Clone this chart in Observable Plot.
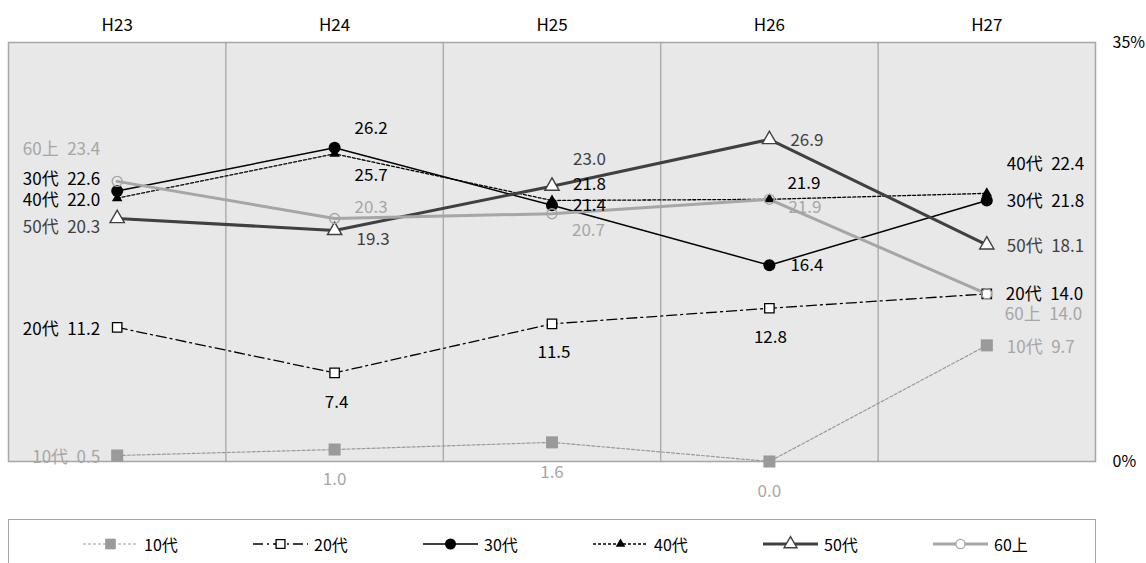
<!DOCTYPE html>
<html><head><meta charset="utf-8">
<script src="https://cdn.jsdelivr.net/npm/d3@7"></script>
<script src="https://cdn.jsdelivr.net/npm/@observablehq/plot@0.6"></script>
<style>
body{margin:0;background:#fff;font-family:"Noto Sans CJK JP","Noto Sans",sans-serif;}
#chart{position:absolute;left:0;top:0;}
#legend{position:absolute;left:8px;top:519px;width:1088px;height:60px;border:1px solid #a6a6a6;box-sizing:border-box;background:#fff;}
.item{position:absolute;top:14px;height:20px;display:flex;align-items:center;font-size:16px;color:#000;white-space:nowrap;}
.item svg{margin-right:6px;}
</style></head><body><div id="chart"></div><div id="legend"></div>
<script>
// ---- data ----
const years = ["H23","H24","H25","H26","H27"];
const seriesNames = ["10代","20代","30代","40代","50代","60上"];
const v10 = [0.5, 1.0, 1.6, 0.0, 9.7];
const v20 = [11.2, 7.4, 11.5, 12.8, 14.0];
const v30 = [22.6, 26.2, 21.4, 16.4, 21.8];
const v40 = [22.0, 25.7, 21.8, 21.9, 22.4];
const v50 = [20.3, 19.3, 23.0, 26.9, 18.1];
const v60 = [23.4, 20.3, 20.7, 21.9, 14.0];
const yTicks = [0, 35];

// ---- styles ----
const values = [v10, v20, v30, v40, v50, v60];
const styles = {
  "10代": {stroke:"#9a9a9a", sw:1.2, dash:"3,2", symbol:"square", r:6.8, fill:"#9a9a9a", ms:"none", msw:0, label:"#a6a6a6", lr:6},
  "20代": {stroke:"#000", sw:1.3, dash:"10,4,2,4", symbol:"square", r:5.3, fill:"#fff", ms:"#000", msw:1.3, label:"#000", lr:5},
  "30代": {stroke:"#000", sw:1.5, dash:null, symbol:"circle", r:6, fill:"#000", ms:"none", msw:0, label:"#000", lr:5.5},
  "40代": {stroke:"#000", sw:1.3, dash:"3,2", symbol:"triangle", r:3.9, fill:"#000", ms:"none", msw:0, label:"#000", lr:3.6},
  "50代": {stroke:"#404040", sw:3, dash:null, symbol:"triangle", r:5.3, fill:"#fff", ms:"#404040", msw:1.4, label:"#404040", lr:4.8},
  "60上": {stroke:"#a6a6a6", sw:3, dash:null, symbol:"circle", r:5, fill:"none", ms:"#a6a6a6", msw:1.4, label:"#a6a6a6", lr:4.6}
};
// label placement per series per year: [dx, dy, anchor]
const labelPlace = {
  "10代": [[-17,2,"end"],[0,30,"middle"],[0,30,"middle"],[0,30,"middle"],[20,2,"start"]],
  "20代": [[-17,2,"end"],[2,30,"middle"],[2,29,"middle"],[1,29,"middle"],[19,1,"start"]],
  "30代": [[-17,-11,"end"],[20,-19,"start"],[21,0,"start"],[21,0,"start"],[20,1,"start"]],
  "40代": [[-17,2,"end"],[20,22,"start"],[21,-16,"start"],[18,-16,"start"],[20,-29,"start"]],
  "50代": [[-17,9,"end"],[22,9,"start"],[21,-27,"start"],[21,1,"start"],[20,2,"start"]],
  "60上": [[-17,-32,"end"],[20,-11,"start"],[20,17,"start"],[19,8,"start"],[18,21,"start"]]
};

const data = [];
seriesNames.forEach((s, si) => values[si].forEach((v, i) => data.push({series: s, i, year: years[i], value: v})));

const lineMarks = [], dotMarks = [], labelMarks = [];
for (const s of seriesNames) {
  const st = styles[s];
  const d = data.filter(e => e.series === s);
  lineMarks.push(Plot.line(d, {x: "i", y: "value", stroke: st.stroke, strokeWidth: st.sw, strokeDasharray: st.dash || undefined, strokeLinejoin: "round"}));
  dotMarks.push(Plot.dot(d, {x: "i", y: "value", symbol: st.symbol, r: st.r, fill: st.fill, stroke: st.ms, strokeWidth: st.msw}));
  d.forEach(e => {
    const [dx, dy, anchor] = labelPlace[s][e.i];
    const txt = (e.i === 0 || e.i === years.length - 1) ? `${s}\u2002${e.value.toFixed(1)}` : e.value.toFixed(1);
    labelMarks.push(Plot.text([e], {x: "i", y: "value", text: () => txt, dx, dy, textAnchor: anchor, lineAnchor: "middle", fill: st.label, fontSize: 17}));
  });
}
const seriesMarks = [...lineMarks, ...dotMarks];

const chart = Plot.plot({
  width: 1146, height: 506,
  marginLeft: 8, marginRight: 51, marginTop: 42, marginBottom: 45,
  style: {fontFamily: '"Noto Sans CJK JP","Noto Sans",sans-serif', fontSize: "16px", background: "transparent", color: "#000"},
  x: {domain: [-0.5, years.length - 0.5]},
  y: {domain: [0, 35]},
  marks: [
    Plot.frame({fill: "#e8e8e8", stroke: "none"}),
    Plot.ruleX(d3.range(1, years.length).map(i => i - 0.5), {stroke: "#a6a6a6", strokeWidth: 1.3}),
    Plot.frame({stroke: "#a6a6a6", strokeWidth: 1.5}),
    Plot.axisX({anchor: "top", ticks: d3.range(years.length), tickFormat: i => years[i], tickSize: 0, tickPadding: 12, fontSize: 17, label: null}),
    Plot.axisY({anchor: "right", ticks: yTicks, tickFormat: d => d + "%", tickSize: 0, tickPadding: 17, fontSize: 16, label: null}),
    ...seriesMarks,
    ...labelMarks
  ]
});
document.getElementById("chart").appendChild(chart);

// ---- legend ----
const legend = d3.select("#legend");
const symMap = {square: d3.symbolSquare, circle: d3.symbolCircle, triangle: d3.symbolTriangle};
seriesNames.forEach((s, k) => {
  const st = styles[s];
  const item = legend.append("div").attr("class", "item").style("left", (74 + k * 170) + "px");
  const svg = item.append("svg").attr("width", 55).attr("height", 18);
  svg.append("line").attr("x1", 0).attr("x2", 55).attr("y1", 9).attr("y2", 9)
    .attr("stroke", st.stroke).attr("stroke-width", st.sw).attr("stroke-dasharray", st.dash);
  svg.append("path").attr("transform", "translate(27.5,9)")
    .attr("d", d3.symbol(symMap[st.symbol], Math.PI * st.lr * st.lr)())
    .attr("fill", st.fill === "none" ? "#fff" : st.fill).attr("stroke", st.ms).attr("stroke-width", st.msw);
  item.append("span").text(s);
});
</script>
</body></html>
